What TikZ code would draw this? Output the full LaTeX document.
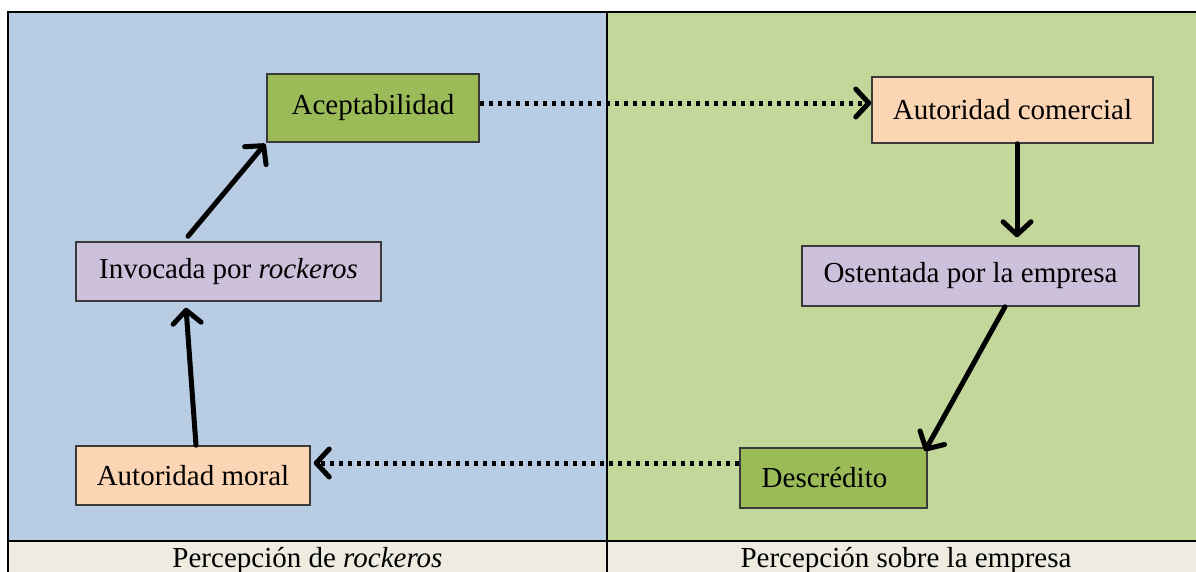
\documentclass[tikz,border=0pt]{standalone}
\usepackage{fontspec}
\setmainfont{Liberation Serif}
\usetikzlibrary{arrows.meta}
\definecolor{bgblue}{HTML}{B8CCE4}
\definecolor{bggreen}{HTML}{C4D79B}
\definecolor{bgrow}{HTML}{EEECE1}
\definecolor{boxgreen}{HTML}{9BBB59}
\definecolor{boxpeach}{HTML}{FCD5B4}
\definecolor{boxlav}{HTML}{CCC0DA}
\definecolor{boxline}{HTML}{3A3A3A}
\tikzset{
  box/.style={draw=boxline, line width=1.5pt, inner sep=0pt, font=\fontsize{29}{34}\selectfont},
  flow/.style={line width=5pt, line cap=round, -{Straight Barb[length=13pt,width=28pt,round]}},
  dotflow/.style={line width=5pt, dash pattern=on 4.5pt off 4.5pt, -{Straight Barb[length=13pt,width=28pt,round,line cap=round]}},
  rowlabel/.style={font=\fontsize{29}{34}\selectfont, anchor=base}
}
\begin{document}
\begin{tikzpicture}[x=1pt,y=-1pt]
\useasboundingbox (0,0) rectangle (1196,571);
% backgrounds
\fill[bgblue] (8,12) rectangle (607,541);
\fill[bggreen] (607,12) rectangle (1210,541);
\fill[bgrow] (8,541) rectangle (1210,600);
\draw[line width=2pt] (8,600) -- (8,12) -- (1210,12);
\draw[line width=2pt] (8,541) -- (1210,541);
\draw[line width=1.5pt] (607,12) -- (607,600);
% row labels
\node[rowlabel] (lblL) at (307.5,567) {Percepción de \textit{rockeros}};
\node[rowlabel] (lblR) at (906,567) {Percepción sobre la empresa};
% boxes
\node[box, fill=boxgreen, minimum width=212pt, minimum height=68pt] (acep) at (373,108) {\raisebox{6pt}{Aceptabilidad}};
\node[box, fill=boxpeach, minimum width=281pt, minimum height=66pt] (comer) at (1012.5,110) {Autoridad comercial};
\node[box, fill=boxlav, minimum width=337pt, minimum height=60pt] (osten) at (970.5,276) {Ostentada por la empresa};
\node[box, fill=boxgreen, minimum width=187pt, minimum height=60pt] (descr) at (833.5,478) {\hspace*{-18pt}Descrédito};
\node[box, fill=boxpeach, minimum width=234pt, minimum height=59pt] (moral) at (193,475.5) {Autoridad moral};
\node[box, fill=boxlav, minimum width=305pt, minimum height=59pt] (invoc) at (228.5,271.5) {Invocada por \textit{rockeros}};
% connectors
\draw[dotflow] ([shift={(0,-5)}]acep.east) -- ([shift={(0,-7)}]comer.west);
\draw[flow] ([shift={(4.5,0)}]comer.south) -- ([shift={(46.5,-8)}]osten.north);
\draw[flow] ([shift={(34.5,0)}]osten.south) -- ([shift={(-3,4)}]descr.north east);
\draw[dotflow] ([shift={(0,-15)}]descr.west) -- ([shift={(3,-12.5)}]moral.east);
\draw[flow] ([shift={(3,0)}]moral.north) -- ([shift={(-42.5,6)}]invoc.south);
\draw[flow] ([shift={(-40.5,-5)}]invoc.north) -- ([shift={(-1,1)}]acep.south west);
\end{tikzpicture}
\end{document}
